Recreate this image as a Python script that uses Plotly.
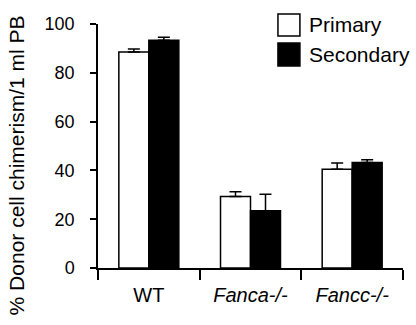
import plotly.graph_objects as go

categories = ["WT", "<i>Fanca-/-</i>", "<i>Fancc-/-</i>"]
series_names = ["Primary", "Secondary"]
primary = [88.5, 29.3, 40.5]
primary_err = [1.3, 2.0, 2.5]
secondary = [93.3, 23.5, 43.2]
secondary_err = [1.3, 6.7, 1.2]
y_ticks = [0, 20, 40, 60, 80, 100]
y_title = "% Donor cell chimerism/1 ml PB"

FONT = "Liberation Sans, Arial, sans-serif"

fig = go.Figure()
fig.add_trace(go.Bar(
    x=categories, y=primary, name=series_names[0],
    marker=dict(color="white", line=dict(color="black", width=1.5)),
    error_y=dict(type="data", symmetric=False, array=primary_err,
                 arrayminus=[0] * len(primary_err), color="black",
                 thickness=1.5, width=6),
    showlegend=False,
))
fig.add_trace(go.Bar(
    x=categories, y=secondary, name=series_names[1],
    marker=dict(color="black", line=dict(color="black", width=1.5)),
    error_y=dict(type="data", symmetric=False, array=secondary_err,
                 arrayminus=[0] * len(secondary_err), color="black",
                 thickness=1.5, width=6),
    showlegend=False,
))

# Legend drawn manually to match large square swatches
legend_items = [
    (series_names[0], "white", 1.041, 0.951),
    (series_names[1], "black", 0.922, 0.828),
]
for name, color, y1, y0 in legend_items:
    fig.add_shape(type="rect", xref="paper", yref="paper",
                  x0=0.590, x1=0.662, y0=y0, y1=y1,
                  fillcolor=color, line=dict(color="black", width=1.5))
    fig.add_annotation(xref="paper", yref="paper", x=0.685, y=(y0 + y1) / 2,
                       text=name, showarrow=False, xanchor="left",
                       yanchor="middle",
                       font=dict(family=FONT, size=21, color="black"))

fig.add_annotation(xref="paper", yref="paper", x=-0.266, y=0.42,
                   text=y_title, textangle=-90, showarrow=False,
                   xanchor="center", yanchor="middle",
                   font=dict(family=FONT, size=21, color="black"))

fig.update_layout(
    width=416, height=325,
    margin=dict(l=98, r=13, t=24, b=57),
    paper_bgcolor="white", plot_bgcolor="white",
    barmode="group", bargap=0.41, bargroupgap=0,
    font=dict(family=FONT, color="black"),
    xaxis=dict(showline=True, linecolor="black", linewidth=1.5,
               ticks="outside", ticklen=10, tickwidth=1.5, tickcolor="black",
               tickson="boundaries", showgrid=False, ticklabelstandoff=8,
               tickfont=dict(family=FONT, size=20, color="black")),
    yaxis=dict(range=[0, 100], tickvals=y_ticks, showline=True,
               linecolor="black", linewidth=1.5, ticks="outside", ticklen=6,
               tickwidth=1.5, tickcolor="black", showgrid=False,
               zeroline=False, ticklabelstandoff=12,
               tickfont=dict(family=FONT, size=18, color="black")),
)

fig.write_html("out.html")
